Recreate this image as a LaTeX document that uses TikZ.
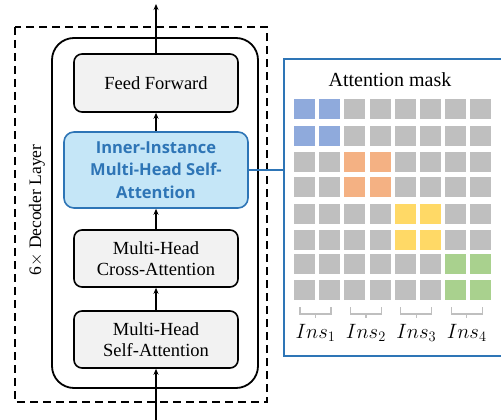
\documentclass[tikz,border=0pt]{standalone}
\usepackage{fontspec}
\setmainfont{Liberation Serif}
\newfontfamily\bluefont{Open Sans}
\usetikzlibrary{arrows.meta}
\definecolor{cellgray}{HTML}{BFBFBF}
\definecolor{cellblue}{HTML}{8FAADC}
\definecolor{cellorange}{HTML}{F4B183}
\definecolor{cellyellow}{HTML}{FFD966}
\definecolor{cellgreen}{HTML}{A9D18E}
\definecolor{panelblue}{HTML}{2E75B6}
\definecolor{boxblue}{HTML}{C5E6F7}
\definecolor{boxgray}{HTML}{F2F2F2}
\begin{document}
\begin{tikzpicture}[x=1pt,y=-1pt,
  layerbox/.style={draw=black,line width=1.6pt,rounded corners=8pt,fill=boxgray,
    align=center,font=\fontsize{18.5}{21}\selectfont,inner sep=0pt},
  innerbox/.style={draw=panelblue,line width=1.6pt,rounded corners=10pt,fill=boxblue,
    align=center,text=panelblue,font=\bluefont\bfseries\fontsize{16.5}{22.5}\selectfont,inner sep=0pt},
  flow/.style={-{Stealth[length=6pt,width=5pt]},line width=1.3pt},
  cell/.style={fill=cellgray},
  brk/.style={draw=cellgray,line width=1.3pt}
]
\useasboundingbox (0,0) rectangle (501,420);
\clip (0,0) rectangle (501,420);
% dashed decoder frame
\draw[line width=1.8pt,dash pattern=on 8pt off 5pt] (15,27) rectangle (267,402);
% outer rounded box
\draw[line width=1.8pt,rounded corners=22pt] (52,38) rectangle (258,388);
\node[rotate=90,font=\fontsize{17.5}{19}\selectfont] (lbl) at (37,210) {6$\times$ Decoder Layer};
% layers
\node[layerbox,minimum width=164pt,minimum height=58pt] (ff) at (156,83) {Feed Forward};
\node[innerbox,minimum width=184pt,minimum height=76pt] (ii) at (156,170) {Inner-Instance\\Multi-Head Self-\\Attention};
\node[layerbox,minimum width=164pt,minimum height=57pt] (ca) at (156,258.5) {Multi-Head\\Cross-Attention};
\node[layerbox,minimum width=164pt,minimum height=57pt] (sa) at (156,339.5) {Multi-Head\\Self-Attention};
\coordinate (top) at (156,4);
\coordinate (bot) at (156,420);
\draw[flow] (ff.north) -- (top);
\draw[flow] (ii.north) -- (ff.south);
\draw[flow] (ca.north) -- (ii.south);
\draw[flow] (sa.north) -- (ca.south);
\draw[flow] (bot) -- (sa.south);
% panel
\draw[draw=panelblue,line width=1.8pt] (284,59) rectangle (530,356);
\coordinate (pl) at (284,170);
\draw[draw=panelblue,line width=1.8pt] (ii.east) -- (pl);
\node[font=\fontsize{20}{22}\selectfont] (title) at (390,80) {Attention mask};
% grid
\foreach \r/\yy in {0/99,1/126,2/152,3/177,4/204,5/230,6/254,7/280}{
  \foreach \c in {0,...,7}{
    \pgfmathtruncatemacro{\bi}{int(\r/2)}
    \pgfmathtruncatemacro{\bj}{int(\c/2)}
    \ifnum\bi=\bj
      \ifcase\bi \def\cc{cellblue}\or \def\cc{cellorange}\or \def\cc{cellyellow}\or \def\cc{cellgreen}\fi
    \else \def\cc{cellgray}\fi
    \fill[\cc] ({294+25.2*\c},\yy) rectangle ++(21,20);
  }
}
% brackets and labels
\foreach \k in {1,...,4}{
  \pgfmathsetmacro{\xa}{294+50.4*(\k-1)+6}
  \pgfmathsetmacro{\xb}{\xa+31}
  \pgfmathsetmacro{\xm}{(\xa+\xb)/2}
  \draw[brk] (\xa,307) -- (\xa,314) -- (\xb,314) -- (\xb,307);
  \draw[brk] (\xm,314) -- (\xm,318);
  \node[font=\fontsize{20}{22}\selectfont] (ins\k) at (\xm,333) {$Ins_{\k}$};
}
\end{tikzpicture}
\end{document}
